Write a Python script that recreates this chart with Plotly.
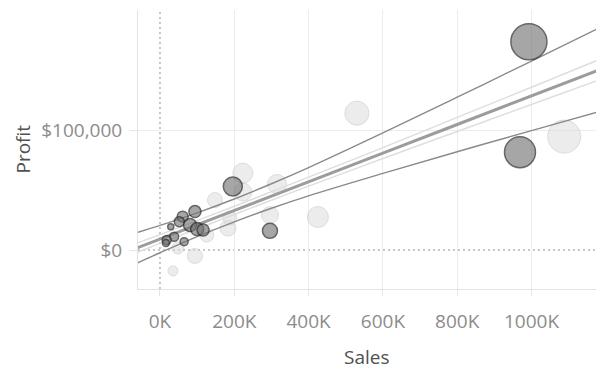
import plotly.graph_objects as go

# ---- data ----
# dark-gray segment (outlined bubbles)
dark_sales = [993000, 969000, 196000, 296000, 94000, 61000, 52000, 29000, 81000, 100000, 116000, 38000, 18000, 65000, 16000]
dark_profit = [173500, 81500, 53000, 16000, 32000, 27800, 23600, 19400, 20800, 17400, 16600, 11100, 8300, 6900, 5800]
dark_qty = [1300, 960, 360, 225, 144, 121, 100, 36, 169, 169, 144, 81, 81, 64, 49]

# light-gray segment
light_sales = [1088000, 530000, 425000, 223000, 315000, 223000, 148000, 296000, 183000, 94000, 35000, 48000, 126000, 188000]
light_profit = [94500, 114000, 27500, 64000, 55000, 48300, 41600, 29100, 18300, -5000, -17400, 1700, 12500, 26700]
light_qty = [1090, 580, 440, 400, 360, 320, 225, 290, 256, 225, 100, 144, 196, 196]

# trend line and confidence bands (read at these sales values)
trend_sales = [-60000, 0, 100000, 200000, 300000, 400000, 600000, 800000, 1000000, 1180000]
trend_profit = [2000, 9100, 21100, 33000, 45000, 56900, 80700, 104600, 128400, 149900]
dark_upper = [14700, 20500, 31000, 42500, 55200, 68700, 97600, 127300, 157400, 184700]
dark_lower = [-10700, -2300, 11200, 23500, 34800, 45100, 63800, 81900, 99500, 115100]
light_upper = [5900, 12800, 24500, 36400, 48500, 60700, 85300, 110500, 135600, 158400]
light_lower = [-1900, 5500, 17700, 29600, 41500, 53200, 76200, 98800, 121300, 141500]

x_ticks = [0, 200000, 400000, 600000, 800000, 1000000]
x_ticktext = ["0K", "200K", "400K", "600K", "800K", "1000K"]
y_ticks = [0, 100000]
y_ticktext = ["$0", "$100,000"]

FONT = "Open Sans"

fig = go.Figure()

fig.add_trace(go.Scatter(
    x=light_sales, y=light_profit, mode="markers",
    marker=dict(size=light_qty, sizemode="area", sizeref=2.0,
                color="rgba(220,220,220,0.78)",
                line=dict(color="rgba(198,198,198,0.8)", width=1)),
    hoverinfo="skip", showlegend=False))

for ys in (light_upper, light_lower):
    fig.add_trace(go.Scatter(x=trend_sales, y=ys, mode="lines",
                             line=dict(color="#dedede", width=1.5, shape="spline"),
                             hoverinfo="skip", showlegend=False))

fig.add_trace(go.Scatter(x=trend_sales, y=trend_profit, mode="lines",
                         line=dict(color="#9c9c9c", width=3),
                         hoverinfo="skip", showlegend=False))

for ys in (dark_upper, dark_lower):
    fig.add_trace(go.Scatter(x=trend_sales, y=ys, mode="lines",
                             line=dict(color="#8a8a8a", width=1.4, shape="spline"),
                             hoverinfo="skip", showlegend=False))

fig.add_trace(go.Scatter(
    x=dark_sales, y=dark_profit, mode="markers",
    marker=dict(size=dark_qty, sizemode="area", sizeref=2.0,
                color="rgba(115,115,115,0.9)",
                line=dict(color="#262626", width=1.5)),
    hoverinfo="skip", showlegend=False))

# dotted zero lines
fig.add_shape(type="line", xref="x", yref="paper", x0=0, x1=0, y0=0, y1=1,
              line=dict(color="#b5b5b5", width=1.5, dash="2px,3px"), layer="below")
fig.add_shape(type="line", xref="paper", yref="y", x0=0, x1=1, y0=0, y1=0,
              line=dict(color="#b5b5b5", width=1.5, dash="2px,3px"), layer="below")

fig.update_layout(
    width=596, height=372,
    margin=dict(l=138, r=0, t=10, b=83),
    paper_bgcolor="white", plot_bgcolor="white",
    font=dict(family=FONT, size=19, color="#8a8a8a"),
    xaxis=dict(range=[-59200, 1173600], tickvals=x_ticks, ticktext=x_ticktext,
               showgrid=True, gridcolor="#ececec", gridwidth=1,
               zeroline=True, zerolinecolor="rgba(255,255,255,0)", zerolinewidth=1,
               showline=True, linecolor="#e3e3e3", linewidth=1,
               ticks="outside", ticklen=6, tickcolor="#e6e6e6",
               ticklabelstandoff=9,
               tickfont=dict(family=FONT, size=19, color="#8c8c8c")),
    yaxis=dict(range=[-32500, 200000], tickvals=y_ticks, ticktext=y_ticktext,
               showgrid=True, gridcolor="#ececec", gridwidth=1,
               zeroline=True, zerolinecolor="rgba(255,255,255,0)", zerolinewidth=1,
               showline=True, linecolor="#e3e3e3", linewidth=1,
               ticks="outside", ticklen=8, tickcolor="#e6e6e6",
               ticklabelstandoff=3,
               tickfont=dict(family=FONT, size=19, color="#8c8c8c")),
    annotations=[
        dict(text="Sales", xref="paper", yref="paper", x=0.5, y=0, yshift=-68,
             xanchor="center", yanchor="middle", showarrow=False,
             font=dict(family=FONT, size=19, color="#505050")),
        dict(text="Profit", xref="paper", yref="paper", x=0, y=0.5, xshift=-116,
             xanchor="center", yanchor="middle", textangle=-90, showarrow=False,
             font=dict(family=FONT, size=19, color="#505050")),
    ],
)

fig.write_html("out.html", config={"displayModeBar": False},
               post_script="document.body.style.margin='0';document.body.style.overflow='hidden';")
